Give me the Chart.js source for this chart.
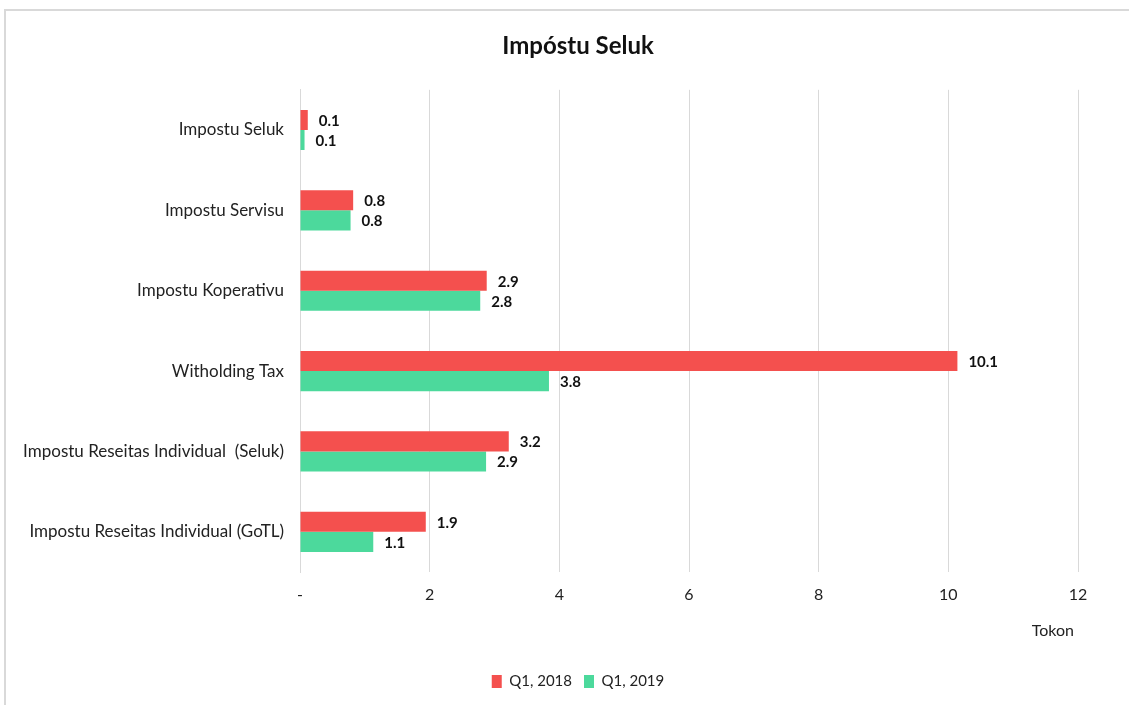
<!DOCTYPE html>
<html>
<head>
<meta charset="utf-8">
<script src="https://cdn.jsdelivr.net/npm/chart.js@4.4.1/dist/chart.umd.min.js"></script>
<style>
  html, body { margin: 0; padding: 0; background: #fff; }
  #wrap { position: relative; width: 1129px; height: 705px; overflow: hidden; }
  #frame { position: absolute; left: 4px; top: 9px; width: 1200px; height: 800px;
           border-left: 2px solid #d9d9d9; border-top: 2px solid #d9d9d9; }
  canvas { position: absolute; left: 0; top: 0; }
</style>
</head>
<body>
<div id="wrap">
  <div id="frame"></div>
  <canvas id="c" width="1129" height="705"></canvas>
</div>
<script>
const categories = [
  "Impostu Seluk",
  "Impostu Servisu",
  "Impostu Koperativu",
  "Witholding Tax",
  "Impostu Reseitas Individual  (Seluk)",
  "Impostu Reseitas Individual (GoTL)"
];
const q1_2018 = [0.12, 0.82, 2.88, 10.14, 3.22, 1.94];
const q1_2019 = [0.07, 0.78, 2.78, 3.84, 2.87, 1.13];
const xTicks = [0, 2, 4, 6, 8, 10, 12];
const seriesNames = ["Q1, 2018", "Q1, 2019"];

const FONT = "Lato, 'Open Sans', sans-serif";

const valueLabels = {
  id: 'valueLabels',
  beforeDraw(chart) {
    // let the long category labels extend past the axis box to the left
    if (chart.scales.y) chart.scales.y._computeLabelArea = function () { return undefined; };
  },
  afterDatasetsDraw(chart) {
    const ctx = chart.ctx;
    ctx.save();
    ctx.font = "bold 15px " + FONT;
    ctx.fillStyle = "#111";
    ctx.textAlign = "left";
    ctx.textBaseline = "middle";
    chart.data.datasets.forEach((ds, di) => {
      const meta = chart.getDatasetMeta(di);
      meta.data.forEach((el, i) => {
        ctx.fillText(ds.data[i].toFixed(1), el.x + 11, el.y + 1);
      });
    });
    ctx.restore();
  }
};

new Chart(document.getElementById('c'), {
  type: 'bar',
  data: {
    labels: categories,
    datasets: [
      { label: seriesNames[0], data: q1_2018, backgroundColor: '#F4504E' },
      { label: seriesNames[1], data: q1_2019, backgroundColor: '#4CD99C' }
    ]
  },
  options: {
    indexAxis: 'y',
    responsive: false,
    animation: false,
    devicePixelRatio: 1,
    layout: { padding: { left: 78, right: 51, top: 6, bottom: 6 } },
    datasets: { bar: { categoryPercentage: 0.5, barPercentage: 1.0 } },
    scales: {
      x: {
        min: 0, max: 12,
        afterBuildTicks(axis) { axis.ticks = xTicks.map(v => ({ value: v })); },
        afterFit(axis) { axis.height = 90; },
        grid: { color: '#d9d9d9', drawTicks: false, lineWidth: 1 },
        border: { display: false },
        ticks: {
          padding: 13,
          color: '#222',
          font: { family: FONT, size: 16 },
          callback: (v) => v === 0 ? '-' : String(v)
        },
        title: {
          display: true, text: 'Tokon ', align: 'end',
          color: '#222',
          font: { family: FONT, size: 16 },
          padding: { top: 0, bottom: 22 }
        }
      },
      y: {
        afterFit(axis) { axis.width = 222; },
        grid: { display: false, drawTicks: false },
        border: { display: true, color: '#d9d9d9' },
        ticks: {
          padding: 16,
          color: '#222',
          font: { family: FONT, size: 17 }
        }
      }
    },
    plugins: {
      title: {
        display: true, text: 'Impóstu Seluk',
        color: '#111',
        font: { family: FONT, size: 24, weight: 'bold' },
        padding: { top: 26, bottom: 29 }
      },
      legend: {
        position: 'bottom',
        labels: {
          color: '#222',
          font: { family: FONT, size: 15 },
          boxWidth: 10, boxHeight: 13,
          padding: 12
        }
      },
      tooltip: { enabled: false }
    }
  },
  plugins: [valueLabels]
});
</script>
</body>
</html>
